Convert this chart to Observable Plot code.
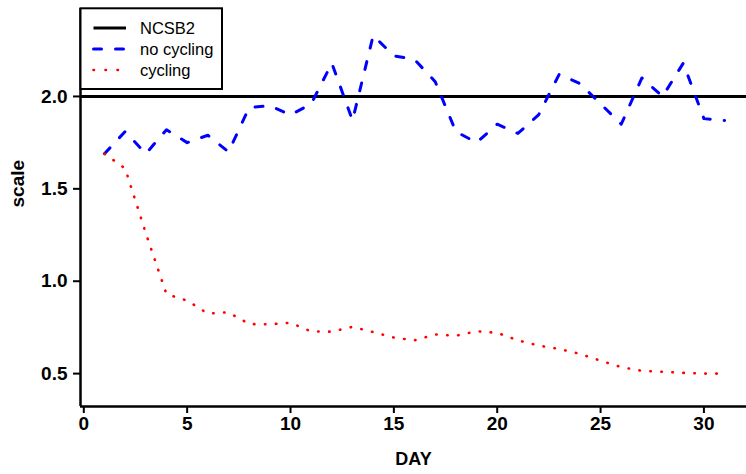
<!DOCTYPE html>
<html>
<head>
<meta charset="utf-8">
<script src="https://cdn.jsdelivr.net/npm/d3@7"></script>
<script src="https://cdn.jsdelivr.net/npm/@observablehq/plot@0.6"></script>
<style>
  html, body { margin: 0; padding: 0; background: white; }
  #wrap { position: relative; width: 746px; height: 474px; overflow: hidden; }
  #legend { position: absolute; left: 0; top: 0; }
</style>
</head>
<body>
<div id="wrap"></div>
<script>
// ---- data ----
const days = [1,2,3,4,5,6,7,8,9,10,11,12,13,14,15,16,17,18,19,20,21,22,23,24,25,26,27,28,29,30,31];
const noCycling = [1.69,1.81,1.69,1.82,1.75,1.79,1.70,1.94,1.95,1.90,1.96,2.18,1.87,2.33,2.22,2.20,2.08,1.81,1.75,1.85,1.80,1.90,2.12,2.07,1.96,1.85,2.10,2.00,2.18,1.88,1.87];
const cycling = [1.69,1.61,1.26,0.93,0.895,0.825,0.832,0.768,0.767,0.775,0.728,0.727,0.753,0.725,0.695,0.68,0.712,0.705,0.729,0.721,0.68,0.652,0.633,0.607,0.57,0.535,0.515,0.51,0.504,0.50,0.50];
const ncsb2 = 2.0;
const seriesNames = ["NCSB2", "no cycling", "cycling"];
const xTicks = [0,5,10,15,20,25,30];
const yTicks = [0.5,1.0,1.5,2.0];
const xDomain = [-0.16, 32.06];
const yDomain = [0.322, 2.476];
const xLabel = "DAY";
const yLabel = "scale";

const FONT = "'Liberation Sans', Arial, Helvetica, sans-serif";

const plot = Plot.plot({
  width: 746,
  height: 474,
  marginLeft: 80,
  marginRight: 0,
  marginTop: 8,
  marginBottom: 68,
  x: {domain: xDomain},
  y: {domain: yDomain},
  style: {fontFamily: FONT, fontSize: "19px", fontWeight: "bold", background: "white", color: "black", overflow: "visible"},
  marks: [
    Plot.ruleY([ncsb2], {stroke: "black", strokeWidth: 3}),
    Plot.line(days, {x: d => d, y: (d, i) => noCycling[i], stroke: "#0000ff", strokeWidth: 3,
      strokeDasharray: "8,14", strokeLinecap: "round", strokeLinejoin: "round"}),
    Plot.line(days, {x: d => d, y: (d, i) => cycling[i], stroke: "#ff0000", strokeWidth: 2.6,
      strokeDasharray: "0.5,10.5", strokeLinecap: "round", strokeLinejoin: "round"}),
    Plot.ruleX([xDomain[0]], {stroke: "black", strokeWidth: 2.5}),
    Plot.ruleY([yDomain[0]], {stroke: "black", strokeWidth: 2.5}),
    Plot.axisX({ticks: xTicks, tickSize: 7, tickPadding: 3, label: null, strokeWidth: 2}),
    Plot.axisY({ticks: yTicks, tickSize: 7, tickPadding: 6, tickFormat: d3.format(".1f"), label: null, strokeWidth: 2}),
    Plot.text([xLabel], {text: d => d, frameAnchor: "bottom", dy: 58, fontSize: 18}),
    Plot.text([yLabel], {text: d => d, frameAnchor: "left", dx: -63, rotate: -90, fontSize: 19})
  ]
});

const wrap = document.getElementById("wrap");
wrap.appendChild(plot);

// ---- legend (inside the plot, top-left) ----
const styles = [
  {stroke: "black", width: 3, dash: null},
  {stroke: "#0000ff", width: 3, dash: "8,14"},
  {stroke: "#ff0000", width: 2.6, dash: "0.5,11.5"}
];
const ns = "http://www.w3.org/2000/svg";
const lg = document.createElementNS(ns, "svg");
lg.setAttribute("id", "legend");
lg.setAttribute("width", 240);
lg.setAttribute("height", 100);
const box = document.createElementNS(ns, "rect");
box.setAttribute("x", 80.5); box.setAttribute("y", 8.3);
box.setAttribute("width", 141.5); box.setAttribute("height", 80.7);
box.setAttribute("fill", "white"); box.setAttribute("stroke", "black"); box.setAttribute("stroke-width", 2);
lg.appendChild(box);
seriesNames.forEach((name, i) => {
  const yy = 28 + i * 21;
  const ln = document.createElementNS(ns, "line");
  ln.setAttribute("x1", 93.5); ln.setAttribute("x2", 126);
  ln.setAttribute("y1", yy); ln.setAttribute("y2", yy);
  ln.setAttribute("stroke", styles[i].stroke);
  ln.setAttribute("stroke-width", styles[i].width);
  ln.setAttribute("stroke-linecap", i === 0 ? "butt" : "round");
  if (styles[i].dash) ln.setAttribute("stroke-dasharray", styles[i].dash);
  lg.appendChild(ln);
  const t = document.createElementNS(ns, "text");
  t.setAttribute("x", 140); t.setAttribute("y", yy);
  t.setAttribute("dy", "0.36em");
  t.setAttribute("font-family", FONT);
  t.setAttribute("font-size", "16.5px");
  t.setAttribute("fill", "black");
  t.textContent = name;
  lg.appendChild(t);
});
wrap.appendChild(lg);
</script>
</body>
</html>
